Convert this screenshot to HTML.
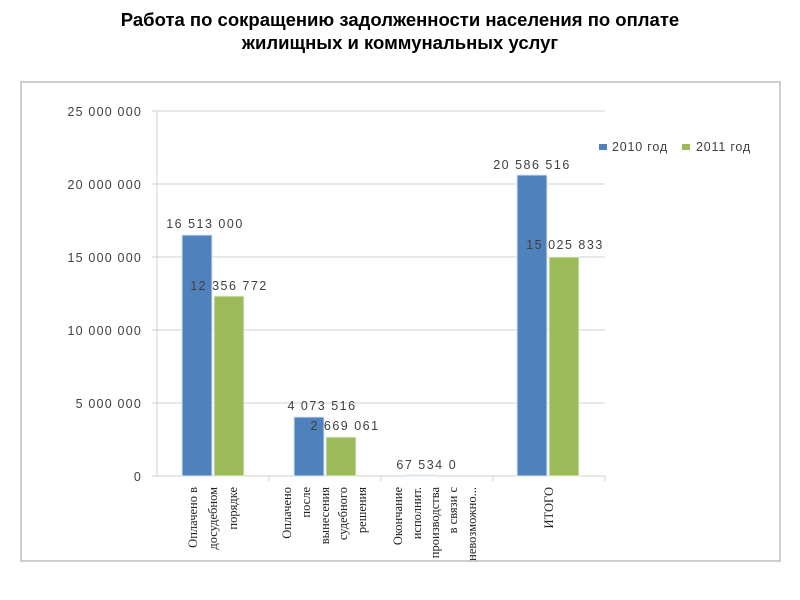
<!DOCTYPE html><html><head><meta charset="utf-8"><style>body{margin:0;background:#fff}svg{display:block}</style></head><body>
<svg width="800" height="600" xmlns="http://www.w3.org/2000/svg" font-family="Liberation Sans, sans-serif">
<text x="400" y="26" text-anchor="middle" font-size="18.5" font-weight="bold" fill="#000">Работа по сокращению задолженности населения по оплате</text>
<text x="400" y="49" text-anchor="middle" font-size="18.5" font-weight="bold" fill="#000">жилищных и коммунальных услуг</text>
<rect x="21" y="82" width="759" height="479" fill="#fff" stroke="#bdbdbd" stroke-width="1.5"/>
<g stroke="#d0d0d0" stroke-width="1">
<line x1="152" y1="111" x2="605" y2="111"/><line x1="152" y1="184" x2="605" y2="184"/><line x1="152" y1="257" x2="605" y2="257"/><line x1="152" y1="330" x2="605" y2="330"/><line x1="152" y1="403" x2="605" y2="403"/>
<line x1="157" y1="111" x2="157" y2="476"/><line x1="152" y1="476" x2="605" y2="476"/>
<line x1="269" y1="476" x2="269" y2="481"/><line x1="381" y1="476" x2="381" y2="481"/><line x1="493" y1="476" x2="493" y2="481"/><line x1="605" y1="476" x2="605" y2="481"/>
</g>
<g font-size="12.5" fill="#404040" text-anchor="end" letter-spacing="1.2">
<text x="142" y="116">25 000 000</text><text x="142" y="189">20 000 000</text><text x="142" y="262">15 000 000</text><text x="142" y="335">10 000 000</text><text x="142" y="408">5 000 000</text><text x="142" y="481">0</text>
</g>
<g fill="#4f81bd" stroke="#dbe5f1" stroke-width="1">
<rect x="182" y="235" width="30" height="241"/><rect x="294" y="417" width="30" height="59"/><rect x="406" y="475" width="30" height="1"/><rect x="517" y="175" width="30" height="301"/>
</g>
<g fill="#9bbb59" stroke="#ebf1de" stroke-width="1">
<rect x="214" y="296" width="30" height="180"/><rect x="326" y="437" width="30" height="39"/><rect x="549" y="257" width="30" height="219"/>
</g>
<g font-size="12.5" fill="#404040" text-anchor="middle" letter-spacing="1.5">
<text x="205" y="228">16 513 000</text><text x="229" y="290">12 356 772</text>
<text x="322" y="410">4 073 516</text><text x="345" y="430">2 669 061</text>
<text x="420" y="469">67 534</text><text x="453" y="469">0</text>
<text x="532" y="169">20 586 516</text><text x="565" y="249">15 025 833</text>
</g>
<rect x="599" y="144" width="8" height="6" fill="#4f81bd"/><text x="612" y="151" font-size="12.5" letter-spacing="0.8" fill="#404040">2010 год</text>
<rect x="682" y="144" width="8" height="6" fill="#9bbb59"/><text x="696" y="151" font-size="12.5" letter-spacing="0.8" fill="#404040">2011 год</text>
<g font-family="Liberation Serif, serif" font-size="12.5" fill="#222" text-anchor="end">
<text transform="translate(197,487) rotate(-90)">Оплачено в</text>
<text transform="translate(217,487) rotate(-90)">досудебном</text>
<text transform="translate(237,487) rotate(-90)">порядке</text>
<text transform="translate(291,487) rotate(-90)">Оплачено</text>
<text transform="translate(310,487) rotate(-90)">после</text>
<text transform="translate(329,487) rotate(-90)">вынесения</text>
<text transform="translate(347,487) rotate(-90)">судебного</text>
<text transform="translate(366,487) rotate(-90)">решения</text>
<text transform="translate(402,487) rotate(-90)">Окончание</text>
<text transform="translate(421,487) rotate(-90)">исполнит.</text>
<text transform="translate(439,487) rotate(-90)">производства</text>
<text transform="translate(457,487) rotate(-90)">в связи с</text>
<text transform="translate(476,487) rotate(-90)">невозможно...</text>
<text transform="translate(553,487) rotate(-90)">ИТОГО</text>
</g>
</svg></body></html>
